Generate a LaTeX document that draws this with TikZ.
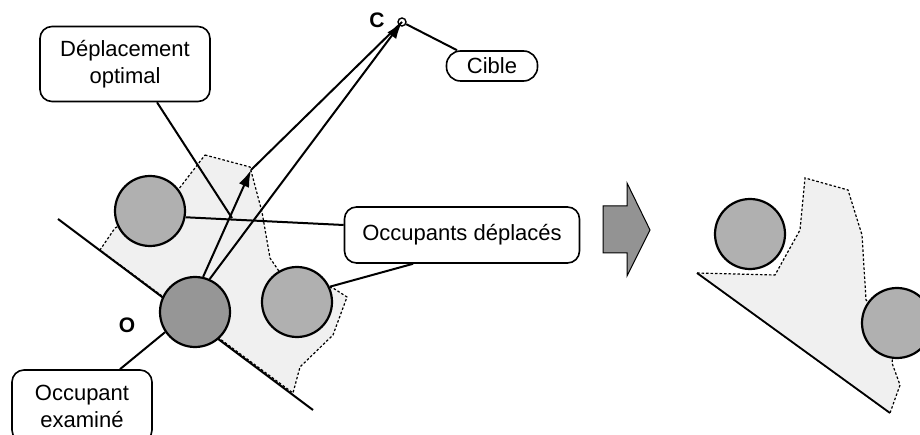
\documentclass[tikz,border=0pt]{standalone}
\usepackage{fontspec}
\setmainfont{Liberation Sans}
\usetikzlibrary{arrows.meta}
\begin{document}
\begin{tikzpicture}[x=1pt,y=-1pt,
  lbl/.style={draw, line width=1.6pt, rounded corners=12pt, align=center,
    font=\fontsize{22}{27}\selectfont, inner sep=0pt},
  conn/.style={line width=2pt},
  vec/.style={line width=2pt, -{Latex[length=17pt,width=11pt]}},
  zone/.style={fill=gray!12, draw=black, line width=1.2pt, dash pattern=on 2.5pt off 2pt},
  occ/.style={circle, draw, line width=2.2pt, fill=gray!62, minimum size=70pt, inner sep=0pt},
  occex/.style={occ, fill=gray!82},
  pt/.style={font=\bfseries\fontsize{21}{24}\selectfont}]
\useasboundingbox (0,0) rectangle (920,435);
\clip (0,0) rectangle (920,435);
% left zone
\path[zone] (205,155) -- (250,167) -- (262,212) -- (270,258) -- (285,280) -- (333,288)
  -- (347,297) -- (333,335) -- (300,367) -- (293,393) -- (100,250) -- (115,228)
  -- (150,211) -- (178,190) -- cycle;
% right zone
\path[zone] (697,273) -- (775,275) -- (800,230) -- (805,178) -- (848,190) -- (862,235)
  -- (866,300) -- (897,323) -- (892,363) -- (900,385) -- (890,413) -- cycle;
% tangent lines
\coordinate (t1) at (58,219);
\coordinate (t2) at (313,410);
\draw[conn] (t1) -- (t2);
\coordinate (t3) at (697,273);
\coordinate (t4) at (890,413);
\draw[line width=1.8pt] (t3) -- (t4);
% occupants
\node[occ] (ul) at (150,211) {};
\node[occ] (rc) at (297,302) {};
\node[occex] (ex) at (195,312) {};
\node[occ] (r1) at (750,234) {};
\node[occ] (r2) at (897,323) {};
% target
\node[circle, draw, fill=white, line width=1.4pt, minimum size=8pt, inner sep=0pt] (tg) at (402,22) {};
\node[pt] (lc) at (377,20) {C};
\node[pt] (lo) at (127,325) {O};
% vectors
\coordinate (P) at (251,170);
\draw[vec] (ex.77) -- (P);
\draw[conn] (P) -- (tg.center);
\draw[vec] (ex.66) -- (tg.center);
% label boxes
\node[lbl, minimum width=170pt, minimum height=75pt] (dep) at (125,64) {Déplacement\\optimal};
\node[lbl, minimum width=235pt, minimum height=56pt] (occd) at (462,235) {Occupants déplacés};
\node[lbl, minimum width=140pt, minimum height=72pt] (exam) at (82,406) {Occupant\\examiné};
\node[lbl, rounded corners=14pt, minimum width=91pt, minimum height=30pt] (cib) at (492,66) {Cible};
% connectors
\coordinate (dx) at (232,218);
\draw[conn] (dep.south -| 157,0) -- (dx);
\draw[conn] (ul.-10) -- (occd.west |- 0,225);
\draw[conn] (occd.south -| 413,0) -- (rc.25);
\draw[conn] (ex.214) -- (exam.north -| 120,0);
\draw[conn] (tg) -- (cib.north -| 457,0);
% block arrow
\path[fill=gray!85, draw=black, line width=1pt] (603,206) -- (627,206) -- (627,183) -- (650,230)
  -- (627,276) -- (627,253) -- (603,253) -- cycle;
\end{tikzpicture}
\end{document}
